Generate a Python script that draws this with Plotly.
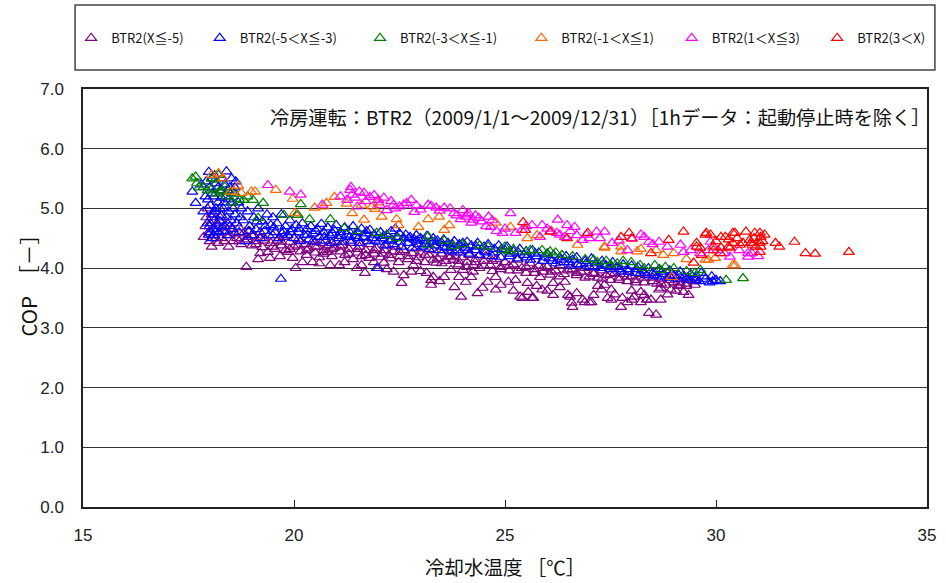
import plotly.graph_objects as go

# Hourly COP of BTR2 vs. cooling-water temperature, grouped by the X band.
# Each list holds (cooling water temp [°C], COP) pairs.
band_le_m5 = [
    (17.86, 4.52), (17.9, 4.7), (17.92, 4.85), (17.95, 5.0), (17.98, 4.6), (18.0, 4.45), (18.02, 4.75),
    (18.05, 4.36), (18.05, 4.9), (18.08, 4.55), (18.1, 4.65), (18.12, 4.8), (18.15, 4.5), (18.18, 4.7),
    (18.2, 4.42), (18.22, 4.6), (18.25, 4.85), (18.28, 4.5), (18.3, 4.68), (18.35, 4.45), (18.38, 4.6),
    (18.42, 4.75), (18.45, 4.36), (18.48, 4.55), (18.52, 4.66), (18.55, 4.45), (18.6, 4.58),
    (18.65, 4.5), (18.7, 4.68), (18.75, 4.4), (18.8, 4.58), (18.87, 4.02), (18.9, 4.48), (18.95, 4.62),
    (19.0, 4.38), (19.05, 4.55), (19.1, 4.45), (19.15, 4.15), (19.2, 4.6), (19.25, 4.35), (19.3, 4.5),
    (19.38, 4.27), (19.43, 4.17), (19.45, 4.42), (19.5, 4.55), (19.55, 4.32), (19.6, 4.46), (19.67, 4.2),
    (19.7, 4.38), (19.75, 4.52), (19.8, 4.3), (19.85, 4.27), (19.9, 4.44), (19.97, 4.17), (20.0, 4.36),
    (20.04, 4.0),
    (20.1, 4.48), (20.15, 4.28), (20.2, 4.1), (20.25, 4.4), (20.3, 4.22), (20.35, 4.33), (20.44, 4.1),
    (20.45, 4.45), (20.5, 4.26), (20.55, 4.36), (20.6, 4.18), (20.65, 4.42), (20.7, 4.3), (20.79, 4.27),
    (20.8, 4.38), (20.86, 4.05), (20.9, 4.2), (20.95, 4.34), (21.0, 4.44), (21.07, 4.05), (21.1, 4.28),
    (21.15, 4.38), (21.21, 4.22), (21.3, 4.32), (21.35, 4.42), (21.4, 4.15), (21.49, 4.0), (21.5, 4.26),
    (21.55, 4.36), (21.6, 4.2), (21.68, 3.92), (21.7, 4.3), (21.78, 4.17), (21.8, 4.4), (21.89, 4.1),
    (21.9, 4.24), (21.95, 4.33),
    (22.05, 4.18), (22.13, 4.09), (22.15, 4.3), (22.2, 4.38), (22.25, 4.22), (22.36, 3.94), (22.35, 4.28),
    (22.4, 4.36), (22.48, 4.1), (22.5, 4.2), (22.55, 3.75), (22.6, 4.3), (22.7, 4.15), (22.78, 3.94),
    (22.8, 4.25), (22.83, 4.05), (22.9, 4.33), (22.95, 4.18), (23.0, 4.26), (23.1, 4.1), (23.14, 3.92),
    (23.2, 4.22), (23.25, 3.72), (23.25, 3.8), (23.3, 3.85), (23.3, 4.3), (23.37, 4.09), (23.4, 4.16),
    (23.5, 4.24), (23.56, 3.85), (23.6, 4.12), (23.65, 4.2), (23.72, 3.97), (23.77, 4.14), (23.8, 4.26),
    (23.91, 3.85), (23.9, 4.06), (23.96, 3.52), (24.0, 3.97), (24.0, 4.18),
    (24.07, 3.77), (24.1, 4.1), (24.15, 4.22), (24.24, 3.94), (24.25, 4.05), (24.3, 4.15), (24.4, 4.0),
    (24.47, 3.67), (24.5, 4.12), (24.55, 4.2), (24.59, 3.77), (24.65, 4.05), (24.7, 3.95), (24.78, 3.85),
    (24.78, 3.64), (24.8, 4.15), (24.9, 4.02), (25.0, 4.1), (25.08, 3.77), (25.1, 3.96), (25.2, 4.06),
    (25.25, 3.8), (25.3, 4.14), (25.36, 3.52), (25.41, 3.5), (25.4, 4.0), (25.5, 3.92), (25.53, 3.75),
    (25.55, 3.6), (25.6, 4.08), (25.64, 3.5), (25.67, 3.5), (25.7, 3.98), (25.8, 4.04), (25.83, 3.85),
    (25.88, 3.64), (25.9, 3.94),
    (26.0, 4.02), (26.07, 3.89), (26.14, 3.55), (26.14, 3.75), (26.2, 3.96), (26.3, 4.05), (26.4, 3.9),
    (26.42, 3.77), (26.49, 3.55), (26.54, 3.52), (26.58, 3.42), (26.6, 3.35), (26.6, 3.98), (26.7, 3.88),
    (26.8, 3.94), (26.84, 3.47), (26.89, 3.43), (26.9, 4.0), (27.0, 3.43), (27.0, 3.86), (27.05, 3.43),
    (27.1, 3.92), (27.2, 3.84), (27.29, 3.64), (27.3, 3.96), (27.36, 3.72), (27.43, 3.5), (27.4, 3.88),
    (27.52, 3.64), (27.52, 3.47), (27.5, 3.8), (27.6, 3.92), (27.7, 3.84), (27.75, 3.35), (27.78, 3.5),
    (27.8, 3.9), (27.9, 3.43), (27.9, 3.78), (28.0, 3.86),
    (28.01, 3.47), (28.06, 3.52), (28.1, 3.8), (28.22, 3.43), (28.22, 3.6), (28.2, 3.9), (28.3, 3.76),
    (28.36, 3.47), (28.41, 3.25), (28.46, 3.47), (28.5, 3.84), (28.58, 3.22), (28.6, 3.74), (28.65, 3.64),
    (28.69, 3.67), (28.69, 3.47), (28.7, 3.82), (28.8, 3.72), (28.9, 3.86), (28.93, 3.64), (29.0, 3.76),
    (29.1, 3.7), (29.16, 3.72), (29.2, 3.82), (29.23, 3.6), (29.3, 3.74), (29.35, 3.55), (29.4, 3.8),
    (29.5, 3.72),
    # dense core of the band
    (18.7, 4.45), (18.9, 4.52), (19.1, 4.4), (19.3, 4.46), (19.5, 4.36), (19.7, 4.44), (19.9, 4.32),
    (20.1, 4.38), (20.3, 4.3), (20.5, 4.36), (20.7, 4.24), (20.9, 4.32), (21.1, 4.36), (21.3, 4.24),
    (21.5, 4.32), (21.7, 4.22), (21.9, 4.3), (22.1, 4.24), (22.3, 4.16), (22.5, 4.27), (22.7, 4.2),
    (22.9, 4.12), (23.1, 4.22), (23.3, 4.14), (23.5, 4.08), (23.7, 4.18), (23.9, 4.12), (24.1, 4.02),
    (24.3, 4.1), (24.5, 4.04), (24.7, 4.12), (24.9, 3.98), (25.1, 4.04), (25.3, 3.96), (25.5, 4.02),
    (25.7, 3.92), (25.9, 4.0), (26.1, 3.94), (26.3, 3.86), (26.5, 3.96), (26.7, 3.92), (26.9, 3.84),
    (27.1, 3.9), (27.3, 3.82), (27.5, 3.9), (27.7, 3.8), (27.9, 3.86), (28.1, 3.76), (28.3, 3.84),
    (28.5, 3.78), (28.7, 3.74), (28.9, 3.8), (29.1, 3.76), (29.3, 3.7), (29.5, 3.78),
    # scattered hours below the band
    (19.2, 4.25), (20.6, 4.08), (21.2, 4.1), (21.6, 4.05), (22.0, 4.0), (22.2, 3.98), (22.6, 3.88),
    (23.0, 3.95), (23.45, 3.78), (23.8, 3.68), (24.2, 3.85), (24.35, 3.58), (24.9, 3.72), (25.2, 3.62),
    (25.75, 3.7), (26.0, 3.62), (26.3, 3.68), (26.7, 3.58), (27.1, 3.55), (27.2, 3.7), (27.6, 3.56),
    (28.0, 3.62), (28.3, 3.55), (28.85, 3.56), (29.05, 3.62),
]

band_m5_m3 = [
    (17.59, 5.28), (17.67, 5.09), (17.8, 5.4), (17.85, 4.95), (17.9, 5.2), (17.95, 4.75), (17.98, 4.56),
    (17.98, 5.61), (18.0, 5.35), (18.0, 4.7), (18.02, 5.05), (18.05, 4.85), (18.05, 5.5), (18.08, 4.65),
    (18.1, 5.2), (18.1, 4.55), (18.1, 4.9), (18.12, 4.95), (18.15, 5.42), (18.15, 5.0), (18.18, 4.75),
    (18.2, 5.1), (18.22, 4.6), (18.25, 5.3), (18.25, 4.78), (18.28, 4.88), (18.3, 5.5), (18.32, 5.0),
    (18.35, 4.7), (18.35, 5.1), (18.38, 5.2), (18.4, 5.62), (18.42, 4.55), (18.45, 4.95), (18.45, 5.15),
    (18.48, 5.35), (18.5, 4.8), (18.52, 5.1), (18.55, 4.65), (18.58, 5.25), (18.6, 4.9), (18.62, 5.45),
    (17.92, 5.45), (17.96, 5.15), (18.02, 4.6), (18.06, 5.25), (18.12, 5.55), (18.16, 4.62), (18.2, 5.35),
    (18.24, 5.0), (18.28, 5.18), (18.32, 4.62), (18.36, 5.4), (18.4, 4.85), (18.44, 5.3), (18.48, 4.7),
    (18.52, 5.5), (18.56, 5.0), (18.6, 5.35), (18.64, 4.75), (18.68, 5.1), (18.05, 4.5),
    (18.7, 4.6), (18.75, 5.0), (18.8, 4.8), (18.85, 4.45), (18.9, 4.95), (18.95, 4.7), (19.0, 4.55),
    (19.05, 4.85), (19.1, 4.65), (19.15, 5.0), (19.2, 4.5), (19.25, 4.78), (19.3, 4.62), (19.36, 4.9),
    (19.4, 4.55), (19.45, 4.72), (19.5, 4.85), (19.55, 4.6), (19.6, 4.75), (19.65, 4.5), (19.69, 3.82),
    (19.7, 4.9), (19.75, 4.62), (19.8, 4.7), (19.85, 4.55), (19.9, 4.8), (19.95, 4.65), (20.0, 4.5),
    (20.05, 4.72), (20.1, 4.6), (20.15, 4.45), (20.2, 4.75), (20.25, 4.55), (20.3, 4.65), (20.35, 4.48),
    (20.4, 4.7), (20.45, 4.58), (20.5, 4.44), (20.55, 4.66), (20.6, 4.52), (20.65, 4.74), (20.7, 4.6),
    (20.75, 4.46), (20.8, 4.68), (20.85, 4.55), (20.9, 4.42), (20.95, 4.64), (21.0, 4.72), (21.05, 4.5),
    (21.1, 4.6), (21.15, 4.44), (21.2, 4.68), (21.25, 4.56), (21.3, 4.62), (21.35, 4.46), (21.4, 4.7),
    (21.45, 4.54), (21.5, 4.6), (21.55, 4.42), (21.6, 4.66), (21.65, 4.52), (21.7, 4.58), (21.75, 4.45),
    (21.8, 4.64), (21.85, 4.5), (21.9, 4.56), (21.96, 4.0), (22.0, 4.44),
    (22.05, 4.6), (22.1, 4.5), (22.15, 4.38), (22.2, 4.56), (22.25, 4.46), (22.3, 4.62), (22.35, 4.4),
    (22.4, 4.66), (22.45, 4.52), (22.5, 4.58), (22.55, 4.36), (22.6, 4.5), (22.65, 4.56), (22.7, 4.42),
    (22.75, 4.52), (22.8, 4.34), (22.85, 4.48), (22.9, 4.55), (22.95, 4.4), (23.0, 4.5), (23.05, 4.36),
    (23.1, 4.46), (23.15, 4.54), (23.2, 4.32), (23.25, 4.44), (23.3, 4.5), (23.35, 4.38), (23.4, 4.46),
    (23.45, 4.3), (23.5, 4.42), (23.55, 4.48), (23.6, 4.34), (23.65, 4.42), (23.7, 4.28), (23.75, 4.4),
    (23.8, 4.45), (23.85, 4.3), (23.9, 4.38), (23.95, 4.26), (24.0, 4.42),
    (24.05, 4.34), (24.1, 4.44), (24.15, 4.24), (24.2, 4.38), (24.3, 4.3), (24.35, 4.42), (24.4, 4.22),
    (24.5, 4.36), (24.55, 4.26), (24.6, 4.4), (24.7, 4.2), (24.75, 4.32), (24.85, 4.38), (24.9, 4.18),
    (25.0, 4.3), (25.05, 4.36), (25.1, 4.2), (25.2, 4.28), (25.3, 4.16), (25.35, 4.32), (25.45, 4.22),
    (25.5, 4.28), (25.6, 4.14), (25.65, 4.3), (25.75, 4.2), (25.8, 4.26), (25.9, 4.12), (26.0, 4.24),
    (26.05, 4.16), (26.15, 4.22), (26.2, 4.08), (26.3, 4.18), (26.4, 4.1), (26.45, 4.2), (26.55, 4.04),
    (26.6, 4.14), (26.7, 4.18), (26.8, 4.06), (26.9, 4.12), (27.0, 4.02), (27.05, 4.16), (27.15, 4.08),
    (27.25, 4.0), (27.3, 4.12), (27.4, 4.04), (27.5, 3.98), (27.55, 4.1), (27.65, 4.02), (27.75, 3.94),
    (27.8, 4.06), (27.9, 3.98), (28.0, 4.04),
    (28.1, 3.92), (28.15, 4.02), (28.25, 3.96), (28.35, 3.88), (28.4, 4.0), (28.5, 3.92), (28.6, 3.86),
    (28.65, 3.98), (28.75, 3.9), (28.85, 3.84), (28.9, 3.96), (29.0, 3.88), (29.1, 3.82), (29.15, 3.94),
    (29.25, 3.86), (29.35, 3.8), (29.4, 3.9), (29.5, 3.84), (29.6, 3.78), (29.65, 3.92), (29.75, 3.82),
    (29.85, 3.76), (29.9, 3.86), (30.0, 3.8), (30.1, 3.78),
    # dense core of the band
    (18.72, 4.85), (18.92, 4.62), (19.12, 4.78), (19.32, 4.7), (19.52, 4.68), (19.72, 4.58), (19.92, 4.6),
    (20.12, 4.66), (20.32, 4.56), (20.52, 4.62), (20.72, 4.52), (20.92, 4.58), (21.12, 4.54), (21.32, 4.52),
    (21.52, 4.5), (21.72, 4.62), (21.92, 4.46), (22.12, 4.54), (22.32, 4.48), (22.52, 4.44), (22.72, 4.5),
    (22.92, 4.46), (23.12, 4.4), (23.32, 4.44), (23.52, 4.36), (23.72, 4.34), (23.92, 4.4), (24.12, 4.3),
    (24.32, 4.36), (24.52, 4.28), (24.72, 4.26), (24.92, 4.32), (25.12, 4.24), (25.32, 4.26), (25.52, 4.18),
    (25.72, 4.24), (25.92, 4.18), (26.12, 4.12), (26.32, 4.14), (26.52, 4.1), (26.72, 4.06), (26.92, 4.08),
    (27.12, 4.02), (27.32, 4.06), (27.52, 4.02), (27.72, 3.98), (27.92, 3.94), (28.12, 3.98), (28.32, 3.92),
    (28.52, 3.88), (28.72, 3.94), (28.92, 3.86), (29.12, 3.88), (29.32, 3.84), (29.52, 3.8), (29.72, 3.86),
    (29.92, 3.78),
]

band_m3_m1 = [
    (17.59, 5.5), (17.67, 5.53), (17.7, 5.42), (17.75, 5.35), (17.86, 5.36), (17.95, 5.3), (18.05, 5.33),
    (18.05, 5.5), (18.13, 5.48), (18.15, 5.25), (18.21, 5.56), (18.25, 5.28), (18.3, 5.3), (18.36, 5.36),
    (18.4, 5.2), (18.52, 5.26), (18.55, 5.1), (18.6, 5.25), (18.7, 5.15), (18.8, 5.14), (18.9, 5.2),
    (19.03, 5.14), (19.15, 4.84), (19.27, 5.09), (19.76, 4.89), (20.06, 4.89), (20.16, 5.07), (20.09, 4.89),
    (20.37, 4.82), (20.86, 4.82), (21.19, 4.67), (21.5, 4.62), (21.96, 4.59), (22.2, 4.55), (22.46, 4.5),
    (23.18, 4.53), (23.18, 4.39), (23.56, 4.46), (23.77, 4.37), (24.0, 4.4), (24.4, 4.38), (24.6, 4.36),
    (24.94, 4.3), (25.0, 4.36), (25.1, 4.28), (25.2, 4.32), (25.5, 4.28), (25.6, 4.3), (25.88, 4.3),
    (26.0, 4.24), (26.07, 4.28), (26.2, 4.26), (26.35, 4.22), (26.6, 4.2), (26.9, 4.15), (27.1, 4.14),
    (27.19, 4.1), (27.4, 4.12), (27.5, 4.06), (27.66, 4.08), (27.8, 4.12), (27.99, 4.1), (28.2, 4.05),
    (28.3, 4.0), (28.55, 4.05), (28.69, 3.97), (28.8, 4.02), (29.0, 4.0), (29.3, 3.95), (29.5, 3.92),
    (29.63, 3.97), (30.24, 3.8), (30.64, 3.83),
]

band_m1_p1 = [
    (18.05, 5.56), (18.21, 5.59), (18.32, 5.5), (18.49, 5.28), (18.68, 5.38), (18.75, 5.26), (18.99, 5.28),
    (19.08, 5.28), (19.57, 5.31), (19.97, 5.16), (20.02, 4.92), (20.49, 5.01), (20.7, 5.03), (20.77, 5.09),
    (20.96, 5.19), (21.25, 5.08), (21.38, 4.92), (21.6, 5.06), (21.66, 4.81), (21.85, 5.03), (21.92, 4.99),
    (22.0, 5.1), (22.08, 4.86), (22.43, 4.82), (22.48, 4.72), (22.95, 4.69), (23.18, 4.82), (23.44, 4.86),
    (23.56, 4.64), (23.68, 4.72), (24.78, 4.76), (25.13, 4.69), (25.53, 4.5), (25.76, 4.55), (26.72, 4.39),
    (27.36, 4.34), (27.36, 4.36), (27.75, 4.28), (27.75, 4.36), (28.13, 4.28), (28.22, 4.32), (28.58, 4.3),
    (28.75, 4.22), (28.95, 3.85), (29.0, 4.25), (29.3, 4.15), (29.75, 4.14), (29.82, 4.14), (29.98, 4.17),
    (30.4, 4.05), (30.45, 4.05),
]

band_p1_p3 = [
    (19.38, 5.39), (19.9, 5.28), (20.16, 5.23), (20.67, 5.06), (21.1, 5.2), (21.26, 5.14), (21.33, 5.31),
    (21.35, 5.36), (21.38, 5.23), (21.45, 5.18), (21.5, 5.03), (21.55, 5.28), (21.66, 5.26), (21.7, 5.12),
    (21.8, 5.19), (21.9, 5.22), (22.0, 5.14), (22.03, 5.06), (22.13, 5.18), (22.2, 4.97), (22.3, 5.12),
    (22.36, 5.06), (22.4, 5.0), (22.5, 5.03), (22.6, 5.06), (22.67, 5.09), (22.78, 5.14), (22.85, 4.94),
    (22.9, 5.05), (23.0, 4.98), (23.18, 5.06), (23.25, 5.04), (23.37, 5.01), (23.45, 4.96), (23.56, 5.01),
    (23.7, 5.0), (23.79, 4.92), (23.85, 4.88), (23.95, 4.82), (24.0, 4.97), (24.07, 4.86), (24.1, 4.9),
    (24.14, 4.92), (24.2, 4.76), (24.24, 4.81), (24.3, 4.88), (24.38, 4.84), (24.45, 4.78), (24.55, 4.7),
    (24.61, 4.86), (24.66, 4.69), (24.7, 4.8), (24.8, 4.62), (24.94, 4.59), (25.0, 4.66), (25.13, 4.92),
    (25.25, 4.59), (25.4, 4.64), (25.5, 4.7), (25.64, 4.72), (25.83, 4.52), (25.88, 4.72), (26.0, 4.66),
    (26.1, 4.62), (26.23, 4.59), (26.25, 4.81), (26.3, 4.56), (26.42, 4.52), (26.47, 4.72), (26.55, 4.62),
    (26.65, 4.69), (26.7, 4.55), (26.84, 4.47), (26.93, 4.56), (27.0, 4.5), (27.17, 4.61), (27.25, 4.5),
    (27.36, 4.61), (27.54, 4.42), (27.7, 4.46), (27.9, 4.3), (28.0, 4.5), (28.22, 4.56), (28.3, 4.52),
    (28.41, 4.44), (28.5, 4.4), (28.65, 4.44), (28.85, 4.36), (29.16, 4.39), (29.23, 4.27), (29.4, 4.3),
    (29.63, 4.25), (29.82, 4.3), (29.87, 4.44), (30.05, 4.3), (30.2, 4.25), (30.33, 4.19), (30.55, 4.3),
    (30.76, 4.25), (30.76, 4.19), (30.85, 4.25), (31.0, 4.2),
]

band_gt_p3 = [
    (25.43, 4.77), (25.48, 4.64), (26.07, 4.61), (26.47, 4.5), (26.96, 4.59), (27.75, 4.52), (27.94, 4.59),
    (28.01, 4.49), (28.46, 4.25), (28.88, 4.47), (29.23, 4.61), (29.47, 4.09), (29.54, 4.42), (29.54, 4.36),
    (29.63, 4.34), (29.66, 4.22), (29.75, 4.56), (29.77, 4.59), (29.87, 4.56), (29.94, 4.36), (29.94, 4.3),
    (30.0, 4.45), (30.1, 4.25), (30.12, 4.52), (30.12, 4.34), (30.22, 4.52), (30.29, 4.36), (30.3, 4.48),
    (30.33, 4.34), (30.4, 4.59), (30.4, 4.42), (30.45, 4.59), (30.5, 4.5), (30.57, 4.39), (30.64, 4.42),
    (30.71, 4.61), (30.8, 4.47), (30.83, 4.42), (30.87, 4.39), (30.9, 4.5), (30.92, 4.59), (30.94, 4.36),
    (31.04, 4.59), (31.04, 4.27), (31.04, 4.42), (31.06, 4.36), (31.06, 4.52), (31.1, 4.45), (31.15, 4.56),
    (31.41, 4.42), (31.5, 4.36), (31.86, 4.44), (32.12, 4.25), (32.35, 4.24), (33.15, 4.27),
]

series_names = [
    "BTR2(X≦-5)", "BTR2(-5＜X≦-3)", "BTR2(-3＜X≦-1)",
    "BTR2(-1＜X≦1)", "BTR2(1＜X≦3)", "BTR2(3＜X)",
]
series_data = [band_le_m5, band_m5_m3, band_m3_m1, band_m1_p1, band_p1_p3, band_gt_p3]
series_colors = ["#800080", "#0000FF", "#008000", "#FF6600", "#FF00FF", "#FF0000"]

x_ticks = [15, 20, 25, 30, 35]
y_ticks = [0.0, 1.0, 2.0, 3.0, 4.0, 5.0, 6.0, 7.0]

JP_FONT = "Noto Sans CJK JP, sans-serif"
NUM_FONT = "Liberation Sans, Arial, sans-serif"

W, H = 946, 583
L, R, T, B = 83, 10, 89, 76
pw, ph = W - L - R, H - T - B

def px_x(px):
    return (px - L) / pw

def px_y(py):
    return (H - B - py) / ph

# horizontal pixel position of each legend entry's symbol
legend_symbol_px = [93, 223, 385, 548, 700, 847]
legend_ids = ["legend"] + [f"legend{i}" for i in range(2, 7)]

fig = go.Figure()
for name, pts, color, lid in zip(series_names, series_data, series_colors, legend_ids):
    fig.add_trace(go.Scatter(
        x=[p[0] for p in pts], y=[p[1] for p in pts],
        mode="markers", name=name, legend=lid,
        marker=dict(symbol="triangle-up-open", size=9.5, color=color,
                    line=dict(width=1.2, color=color)),
    ))

legend_layout = {}
for lid, sx in zip(legend_ids, legend_symbol_px):
    legend_layout[lid] = dict(
        orientation="h", x=px_x(sx - 22), xanchor="left", y=px_y(38), yanchor="middle",
        font=dict(family=JP_FONT, size=13, color="#111"),
        bgcolor="rgba(0,0,0,0)", itemwidth=30,
    )

fig.update_layout(
    width=W, height=H,
    margin=dict(l=L, r=R, t=T, b=B),
    paper_bgcolor="white", plot_bgcolor="white",
    showlegend=True,
    **legend_layout,
    xaxis=dict(
        range=[15, 35], tickvals=x_ticks, ticktext=[str(v) for v in x_ticks],
        ticks="inside", ticklen=7, tickcolor="#222",
        showline=True, linecolor="#222", linewidth=1.5, mirror=True,
        showgrid=False, zeroline=False,
        tickfont=dict(family=NUM_FONT, size=17, color="#222"),
        ticklabelstandoff=12,
    ),
    yaxis=dict(
        range=[0, 7], tickvals=y_ticks, ticktext=[f"{v:.1f}" for v in y_ticks],
        ticks="", showline=True, linecolor="#222", linewidth=1.5, mirror=True,
        showgrid=True, gridcolor="#333", gridwidth=1, zeroline=False,
        tickfont=dict(family=NUM_FONT, size=17, color="#222"),
        ticklabelstandoff=14,
    ),
    shapes=[dict(
        type="rect", xref="paper", yref="paper",
        x0=px_x(75), x1=px_x(944), y0=px_y(70), y1=px_y(5),
        line=dict(color="#444", width=1.5), fillcolor="rgba(0,0,0,0)",
    )],
    annotations=[
        dict(text="冷房運転：BTR2（2009/1/1～2009/12/31）［1hデータ：起動停止時を除く］",
             xref="paper", yref="paper", x=px_x(270), y=px_y(117),
             xanchor="left", yanchor="middle", showarrow=False,
             font=dict(family=JP_FONT, size=19.2, color="#111")),
        dict(text="冷却水温度 ［℃］", xref="paper", yref="paper",
             x=px_x(510), y=px_y(566), xanchor="center", yanchor="middle", showarrow=False,
             font=dict(family=JP_FONT, size=19.5, color="#111")),
        dict(text="COP　［－］", xref="paper", yref="paper", textangle=-90,
             x=px_x(27), y=px_y(281), xanchor="center", yanchor="middle", showarrow=False,
             font=dict(family=JP_FONT, size=20.5, color="#111")),
    ],
)

fig.write_html("out.html")
